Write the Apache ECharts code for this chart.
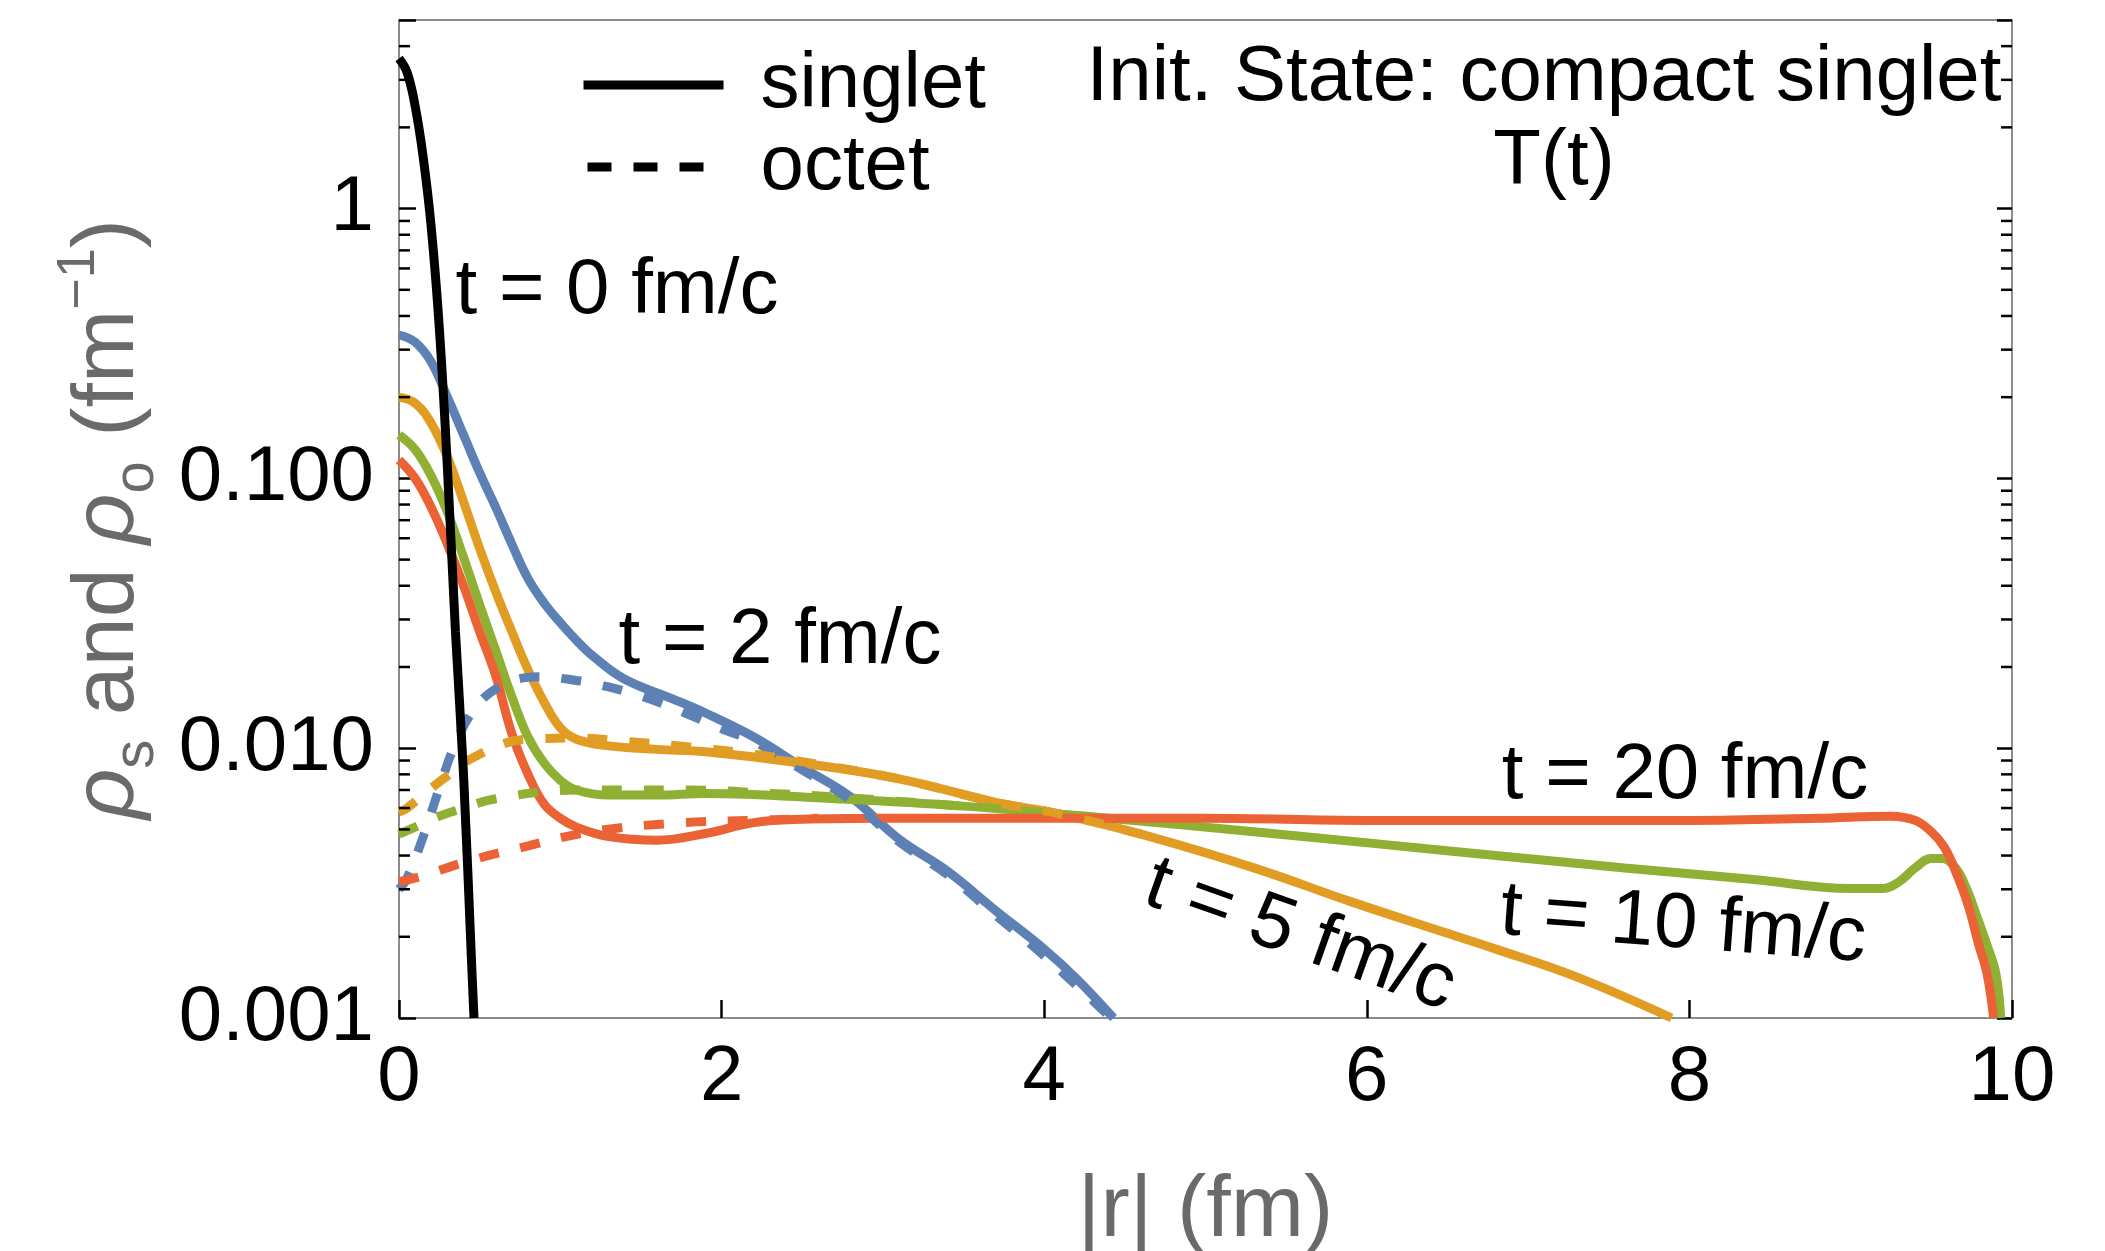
<!DOCTYPE html>
<html>
<head>
<meta charset="utf-8">
<script src="https://cdn.jsdelivr.net/npm/echarts@6/dist/echarts.min.js"></script>
<style>
  html, body { margin: 0; padding: 0; background: #fff; }
  #chart { width: 2105px; height: 1251px; }
</style>
</head>
<body>
<div id="chart"></div>
<script>
const FONT = '"Liberation Sans", Arial, Helvetica, sans-serif';
const COLORS = { t2: '#5E81B5', t5: '#E19C24', t10: '#8FB032', t20: '#EB6235' };

// singlet, t = 0 fm/c
const rT0 = [0, 0.05, 0.1, 0.15, 0.2, 0.25, 0.3, 0.35, 0.4, 0.45, 0.465];
const singletT0 = [3.6, 3.2, 2.4, 1.55, 0.85, 0.36, 0.11, 0.027, 0.008, 0.0016, 0.001];

// t = 2 fm/c
const rT2s = [0, 0.1, 0.2, 0.3, 0.4, 0.5, 0.6, 0.7, 0.8, 0.9, 1.0, 1.1, 1.2, 1.4, 1.7, 1.9, 2.2, 2.5, 2.8, 3.1, 3.4, 3.7, 4.0, 4.2, 4.43];
const singletT2 = [0.34, 0.32, 0.27, 0.2, 0.145, 0.105, 0.078, 0.057, 0.0425, 0.0345, 0.0292, 0.0251, 0.022, 0.018, 0.0152, 0.0135, 0.011, 0.0085, 0.0066, 0.0046, 0.0035, 0.0025, 0.0018, 0.0014, 0.001];
const rT2o = [0, 0.05, 0.15, 0.25, 0.35, 0.48, 0.63, 0.8, 0.9, 1.05, 1.2, 1.5, 1.8, 2.0, 2.2, 2.5, 2.8, 3.1, 3.4, 3.7, 4.0, 4.43];
const octetT2 = [0.003, 0.0033, 0.0047, 0.0071, 0.0104, 0.0143, 0.017, 0.0183, 0.0184, 0.018, 0.0174, 0.0156, 0.0133, 0.0118, 0.0106, 0.0083, 0.0064, 0.0045, 0.0034, 0.0024, 0.0017, 0.00098];

// t = 5 fm/c
const rT5s = [0, 0.1, 0.2, 0.3, 0.4, 0.5, 0.6, 0.7, 0.8, 0.9, 1.0, 1.1, 1.3, 1.6, 1.9, 2.5, 3.1, 3.7, 4.1, 4.6, 5.3, 5.9, 6.5, 6.8, 7.3, 7.89];
const singletT5 = [0.2, 0.19, 0.16, 0.12, 0.082, 0.055, 0.038, 0.027, 0.0195, 0.0148, 0.0119, 0.0108, 0.0102, 0.0099, 0.0097, 0.0088, 0.0077, 0.0063, 0.0057, 0.0048, 0.0036, 0.0027, 0.00206, 0.0018, 0.00142, 0.001];
const rT5o = [0, 0.05, 0.25, 0.5, 0.8, 1.1, 1.4, 1.8, 2.2, 2.6, 3.1, 3.7, 4.1, 4.6];
const octetT5 = [0.0058, 0.006, 0.0075, 0.0095, 0.0108, 0.0109, 0.0106, 0.0101, 0.0095, 0.0087, 0.0077, 0.0063, 0.0057, 0.0048];

// t = 10 fm/c
const rT10s = [0, 0.1, 0.2, 0.3, 0.4, 0.5, 0.6, 0.7, 0.8, 0.9, 1.0, 1.1, 1.3, 1.6, 1.9, 2.7, 3.5, 4.4, 5.3, 6.1, 6.8, 7.6, 8.4, 9.0, 9.2, 9.3, 9.4, 9.5, 9.57, 9.65, 9.72, 9.78, 9.84, 9.9, 9.93];
const singletT10 = [0.145, 0.128, 0.102, 0.075, 0.051, 0.034, 0.023, 0.0155, 0.011, 0.0088, 0.0076, 0.007, 0.0067, 0.0067, 0.0068, 0.0065, 0.0061, 0.0055, 0.0049, 0.0044, 0.004, 0.0036, 0.00326, 0.00302, 0.00302, 0.0032, 0.0036, 0.0039, 0.0039, 0.0036, 0.003, 0.0024, 0.0019, 0.00146, 0.001];
const rT10o = [0, 0.1, 0.25, 0.4, 0.55, 0.73, 0.9, 1.1, 1.4, 1.8, 2.3, 2.7, 3.5];
const octetT10 = [0.0048, 0.0051, 0.0056, 0.006, 0.0064, 0.0067, 0.0069, 0.007, 0.007, 0.007, 0.0068, 0.0066, 0.0061];

// t = 20 fm/c
const rT20s = [0, 0.1, 0.2, 0.3, 0.4, 0.5, 0.6, 0.7, 0.8, 0.9, 1.0, 1.1, 1.3, 1.6, 1.9, 2.2, 2.5, 3.0, 4.0, 5.0, 6.0, 7.0, 8.0, 8.8, 9.25, 9.4, 9.5, 9.58, 9.65, 9.73, 9.79, 9.845, 9.886];
const singletT20 = [0.117, 0.1, 0.078, 0.057, 0.04, 0.027, 0.0185, 0.0113, 0.008, 0.0062, 0.0055, 0.0051, 0.0047, 0.00456, 0.00483, 0.0053, 0.00545, 0.0055, 0.0055, 0.0055, 0.0054, 0.0054, 0.0054, 0.0055, 0.0056, 0.0054, 0.0049, 0.0043, 0.0035, 0.0026, 0.0019, 0.00146, 0.001];
const rT20o = [0, 0.13, 0.42, 0.77, 1.19, 1.7, 2.2, 2.6];
const octetT20 = [0.0032, 0.00334, 0.0038, 0.0043, 0.0049, 0.00527, 0.0054, 0.0055];

// axis ticks
const yTickLabels = ['0.001', '0.010', '0.100', '1'];
const yMinorTicks = [0.002, 0.003, 0.004, 0.005, 0.006, 0.007, 0.008, 0.009,
  0.02, 0.03, 0.04, 0.05, 0.06, 0.07, 0.08, 0.09,
  0.2, 0.3, 0.4, 0.5, 0.6, 0.7, 0.8, 0.9, 2, 3, 4];

const pairs = (xs, ys) => xs.map((x, i) => [x, ys[i]]);

function curve(name, xs, ys, color, dashed) {
  return {
    name,
    type: 'line',
    data: pairs(xs, ys),
    showSymbol: false,
    symbol: 'none',
    smooth: 0.4,
    silent: true,
    lineStyle: { color, width: 9, type: dashed ? [20, 22] : 'solid' },
  };
}

const chart = echarts.init(document.getElementById('chart'));
const tickStyle = { color: '#000', width: 2.5 };
const TITLE_GRAY = '#6a6a6a';

chart.setOption({
  animation: false,
  backgroundColor: '#fff',
  grid: {
    left: 399, right: 93, top: 20, bottom: 233,
    containLabel: false,
    outerBoundsMode: 'none',
    show: true, borderColor: '#8c8c8c', borderWidth: 2,
  },
  legend: {
    orient: 'vertical',
    left: 574,
    top: 41,
    itemWidth: 140,
    itemHeight: 20,
    itemGap: 4,
    selectedMode: false,
    itemStyle: { opacity: 0 },
    textStyle: { fontSize: 78, lineHeight: 78, color: '#000', fontFamily: FONT, padding: [0, 0, 0, 32] },
    data: [
      { name: 'singlet', itemStyle: { opacity: 0 }, lineStyle: { width: 9, color: '#000', type: 'solid' } },
      { name: 'octet', itemStyle: { opacity: 0 }, lineStyle: { width: 9, color: '#000', type: [24, 22], dashOffset: 42 } },
    ],
  },
  xAxis: {
    type: 'value',
    min: 0,
    max: 10,
    interval: 2,
    axisLine: { show: false },
    axisTick: { inside: true, length: 18, lineStyle: tickStyle },
    axisLabel: { margin: 21, fontSize: 78, color: '#000', fontFamily: FONT },
    splitLine: { show: false },
    name: '|r| (fm)',
    nameLocation: 'middle',
    nameGap: 150,
    nameTextStyle: { fontSize: 88, color: TITLE_GRAY, fontFamily: FONT },
  },
  yAxis: [
    {
      type: 'log',
      logBase: 10,
      min: 0.001,
      max: 5,
      axisLine: { show: false },
      axisTick: { inside: true, length: 17, lineStyle: tickStyle },
      axisLabel: {
        margin: 25,
        fontSize: 78,
        color: '#000',
        fontFamily: FONT,
        formatter(v) {
          const l = Math.log10(v);
          const e = Math.round(l);
          if (Math.abs(l - e) > 1e-6) return '';
          return yTickLabels[e + 3] || '';
        },
      },
      splitLine: { show: false },
      name: '{i|ρ}{sub|s} and {i|ρ}{sub|o} (fm{sup|−1})',
      nameLocation: 'middle',
      nameGap: 233,
      nameRotate: 90,
      nameTextStyle: {
        fontSize: 88,
        lineHeight: 114,
        color: TITLE_GRAY,
        fontFamily: FONT,
        rich: {
          i: { fontSize: 88, fontStyle: 'italic', color: TITLE_GRAY, fontFamily: FONT },
          sub: { fontSize: 58, lineHeight: 58, verticalAlign: 'bottom', color: TITLE_GRAY, fontFamily: FONT },
          sup: { fontSize: 54, lineHeight: 72, verticalAlign: 'top', color: TITLE_GRAY, fontFamily: FONT },
        },
      },
    },
    {
      type: 'log',
      logBase: 10,
      min: 0.001,
      max: 5,
      position: 'right',
      axisLine: { show: false },
      axisTick: { inside: true, length: 15, lineStyle: tickStyle },
      axisLabel: { show: false },
      splitLine: { show: false },
    },
  ],
  graphic: [
    { type: 'text', x: 617, y: 291, style: { text: 't = 0 fm/c', font: `78px ${FONT}`, fill: '#000', align: 'center', verticalAlign: 'middle' } },
    { type: 'text', x: 780, y: 641, style: { text: 't = 2 fm/c', font: `78px ${FONT}`, fill: '#000', align: 'center', verticalAlign: 'middle' } },
    { type: 'text', x: 1300, y: 936, rotation: -19.5 * Math.PI / 180, style: { text: 't = 5 fm/c', font: `78px ${FONT}`, fill: '#000', align: 'center', verticalAlign: 'middle' } },
    { type: 'text', x: 1683, y: 926, rotation: -4.3 * Math.PI / 180, style: { text: 't = 10 fm/c', font: `78px ${FONT}`, fill: '#000', align: 'center', verticalAlign: 'middle' } },
    { type: 'text', x: 1685, y: 776, style: { text: 't = 20 fm/c', font: `78px ${FONT}`, fill: '#000', align: 'center', verticalAlign: 'middle' } },
    { type: 'text', x: 1544, y: 78, style: { text: 'Init. State: compact singlet', font: `78px ${FONT}`, fill: '#000', align: 'center', verticalAlign: 'middle' } },
    { type: 'text', x: 1554, y: 162, style: { text: 'T(t)', font: `78px ${FONT}`, fill: '#000', align: 'center', verticalAlign: 'middle' } },
  ],
  series: [
    // legend entries only
    { name: 'singlet', type: 'line', data: [], symbol: 'none', showSymbol: false, lineStyle: { color: '#000', width: 9 }, itemStyle: { color: '#000' } },
    { name: 'octet', type: 'line', data: [], symbol: 'none', showSymbol: false, lineStyle: { color: '#000', width: 9, type: 'dashed' }, itemStyle: { color: '#000' } },

    curve('singlet t=2', rT2s, singletT2, COLORS.t2, false),
    curve('singlet t=5', rT5s, singletT5, COLORS.t5, false),
    curve('singlet t=10', rT10s, singletT10, COLORS.t10, false),
    curve('singlet t=20', rT20s, singletT20, COLORS.t20, false),
    curve('octet t=2', rT2o, octetT2, COLORS.t2, true),
    curve('octet t=5', rT5o, octetT5, COLORS.t5, true),
    curve('octet t=10', rT10o, octetT10, COLORS.t10, true),
    curve('octet t=20', rT20o, octetT20, COLORS.t20, true),
    curve('singlet t=0', rT0, singletT0, '#000', false),

    // minor log ticks on both frame sides
    {
      type: 'custom',
      silent: true,
      clip: false,
      z: 5,
      data: yMinorTicks.map(v => [0, v]),
      renderItem(params, api) {
        const y = api.coord([0, api.value(1)])[1];
        const x0 = params.coordSys.x;
        const x1 = x0 + params.coordSys.width;
        const style = { stroke: '#000', lineWidth: 2.5 };
        return {
          type: 'group',
          children: [
            { type: 'line', shape: { x1: x0, y1: y, x2: x0 + 11, y2: y }, style },
            { type: 'line', shape: { x1: x1 - 11, y1: y, x2: x1, y2: y }, style },
          ],
        };
      },
    },
  ],
});
</script>
</body>
</html>
